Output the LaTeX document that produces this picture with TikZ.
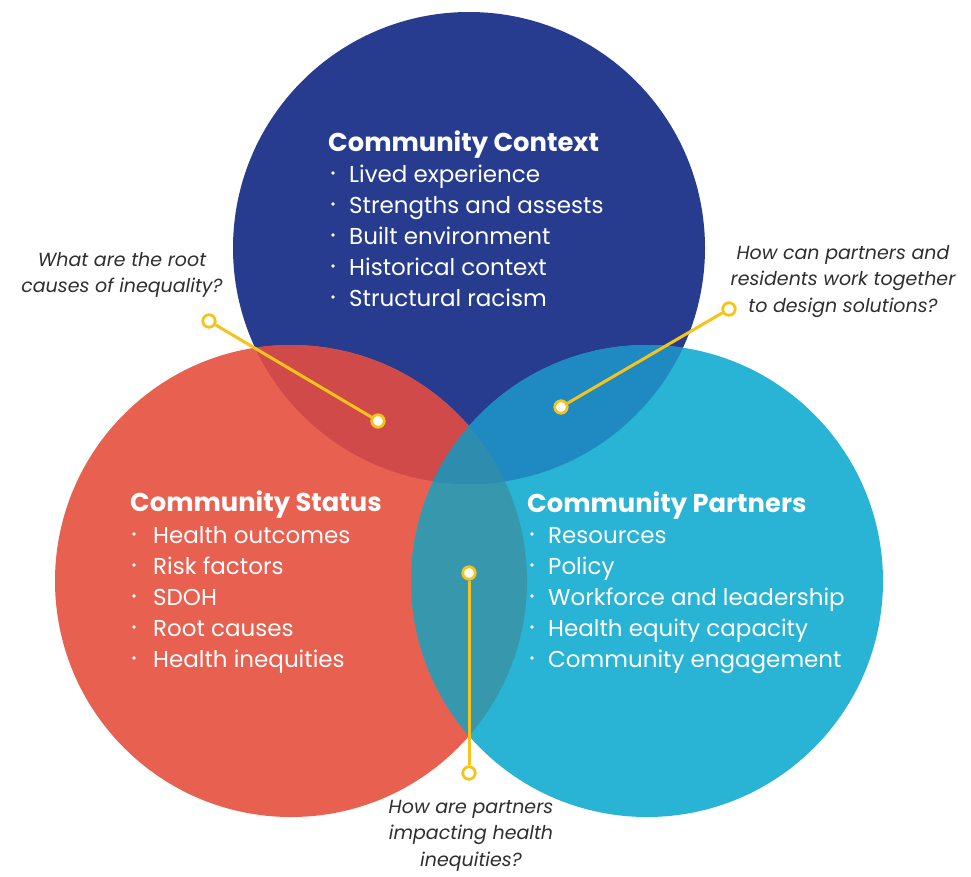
\documentclass[tikz,border=0pt]{standalone}
\usepackage{fontspec}
\setmainfont{Poppins}
\usepackage{xcolor}
\usepackage{tikz}
\usetikzlibrary{calc}
\definecolor{ctxblue}{HTML}{283C8F}
\definecolor{statred}{HTML}{E8604F}
\definecolor{partteal}{HTML}{29B3D5}
\definecolor{redblue}{HTML}{D04A4A}
\definecolor{blueteal}{HTML}{1F89C2}
\definecolor{redteal}{HTML}{3798AD}
\definecolor{allthree}{HTML}{2E8CAE}
\definecolor{gold}{HTML}{F6C31A}
\definecolor{asktext}{HTML}{2E2E2E}
\tikzset{
  head/.style={text=white, font=\fontsize{25.8}{30}\selectfont\bfseries, anchor=base west, inner sep=0pt},
  item/.style={text=white, font=\fontsize{23}{28}\selectfont, anchor=base west, inner sep=0pt},
  bul/.style={circle, fill=white, inner sep=0pt, minimum size=3.8pt},
  ask/.style={text=asktext, font=\fontsize{19}{26.5}\selectfont\itshape, align=center, anchor=north, inner sep=0pt},
  ring/.style={circle, draw=gold, fill=white, line width=2.8pt, inner sep=0pt, minimum size=12.5pt},
  link/.style={draw=gold, line width=3pt},
}

\begin{document}
\begin{tikzpicture}[x=1pt,y=-1pt]
  \useasboundingbox (0,0) rectangle (971,876);
  \def\r{236pt}
  \coordinate (CB) at (469,248);
  \coordinate (CR) at (291,581);
  \coordinate (CT) at (647,581);

  % the three circles
  \fill[ctxblue] (CB) circle (\r);
  \fill[statred] (CR) circle (\r);
  \fill[partteal] (CT) circle (\r);

  % overlaps
  \begin{scope}
    \clip (CR) circle (\r);
    \fill[redblue] (CB) circle (\r);
    \fill[redteal] (CT) circle (\r);
  \end{scope}
  \begin{scope}
    \clip (CB) circle (\r);
    \fill[blueteal] (CT) circle (\r);
    \clip (CR) circle (\r);
    \fill[allthree] (CT) circle (\r);
  \end{scope}

  % community context
  \node[head] (ctxhead) at (328,151) {Community Context};
  \foreach \txt [count=\i] in {Lived experience,Strengths and assests,Built environment,Historical context,Structural racism}{
    \node[item] (ctx\i) at (349,{151+31*\i}) {\txt};
    \node[bul] (ctxdot\i) at (333,{142+31*\i}) {};
  }

  % community status
  \node[head] (stathead) at (130,511) {Community Status};
  \foreach \txt [count=\i] in {Health outcomes,Risk factors,SDOH,Root causes,Health inequities}{
    \node[item] (stat\i) at (153,{512+31*\i}) {\txt};
    \node[bul] (statdot\i) at (134,{503+31*\i}) {};
  }

  % community partners
  \node[head] (parthead) at (527,512) {Community Partners};
  \foreach \txt [count=\i] in {Resources,Policy,Workforce and leadership,Health equity capacity,Community engagement}{
    \node[item] (part\i) at (548,{512+31*\i}) {\txt};
    \node[bul] (partdot\i) at (532,{503+31*\i}) {};
  }

  % questions
  \node[ask] (qroot) at (122,252) {What are the root\\causes of inequality?};
  \node[ask] (qwork) at (843,245) {How can partners and\\residents work together\\to design solutions?};
  \node[ask] (qimpact) at (471,800) {How are partners\\impacting health\\inequities?};

  % pointers
  \node[ring] (rootout) at (209,321) {};
  \node[ring] (rootin) at (378,421) {};
  \node[ring] (workout) at (729,309) {};
  \node[ring] (workin) at (561,407) {};
  \node[ring] (impin) at (469,573) {};
  \node[ring] (impout) at (469,773) {};
  \draw[link] (rootout) -- (rootin);
  \draw[link] (workout) -- (workin);
  \draw[link] (impin) -- (impout);
\end{tikzpicture}
\end{document}
